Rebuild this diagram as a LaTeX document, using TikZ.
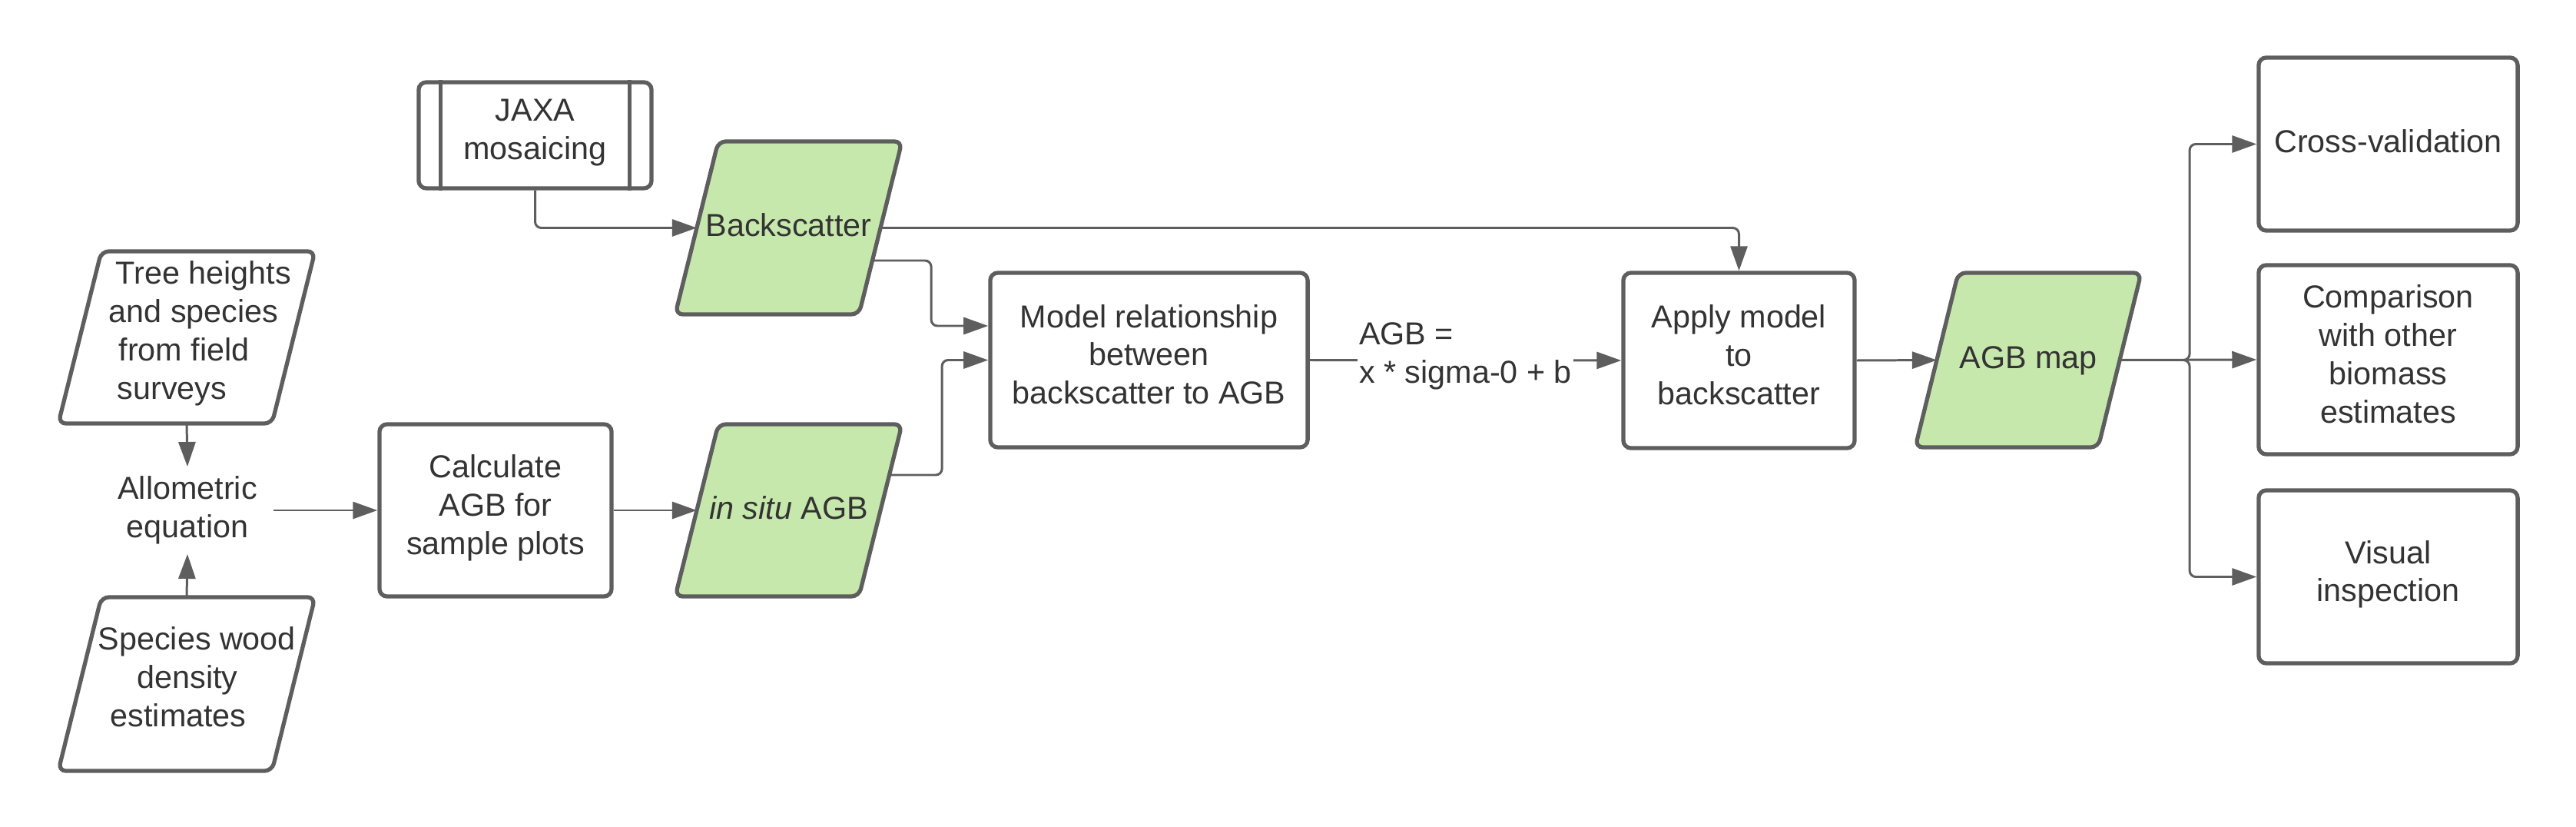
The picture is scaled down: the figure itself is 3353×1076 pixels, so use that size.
\documentclass[tikz,border=0pt]{standalone}
\usepackage{fontspec}
\setmainfont{Liberation Sans}
\usetikzlibrary{arrows.meta,calc,backgrounds}
\definecolor{lc}{HTML}{5E5E5E}
\definecolor{tc}{HTML}{333333}
\definecolor{gf}{HTML}{C7E8AC}
\newcommand{\parash}[2]{\path[pshape, fill=#2] ([xshift=0.28cm]#1.north west) -- ([xshift=0.28cm]#1.north east) -- ([xshift=-0.28cm]#1.south east) -- ([xshift=-0.28cm]#1.south west) -- cycle;}
\newcommand{\topstrut}{\rule{0pt}{0.374cm}}
\newcommand{\botstrut}{\rule[-0.15cm]{0pt}{0.15cm}}
\begin{document}
\begin{tikzpicture}[x=0.01cm,y=-0.01cm,
  every node/.style={text=tc, font=\fontsize{11.75pt}{14.2pt}\selectfont},
  lift/.style={execute at begin node=\topstrut, execute at end node=\botstrut},
  box/.style={draw=lc, line width=1.5pt, rounded corners=0.1cm, fill=white, align=center, inner sep=0pt, lift},
  para/.style={draw=none, inner sep=0pt, outer sep=0pt, align=center},
  pshape/.style={draw=lc, line width=1.5pt, rounded corners=0.1cm},
  conn/.style={draw=lc, line width=0.85pt, rounded corners=0.08cm, -{Triangle[length=0.32cm,width=0.22cm]}},
  lbl/.style={inner sep=0pt, align=center}
]
\useasboundingbox (0,0) rectangle (3353,1076);

% nodes
\node[box, minimum width=3.03cm, minimum height=1.38cm] (jaxa) at (696.5,176) {JAXA\\mosaicing};
\draw[lc, line width=1.5pt] ([xshift=0.31cm]jaxa.north west) -- ([xshift=0.31cm]jaxa.south west);
\draw[lc, line width=1.5pt] ([xshift=-0.31cm]jaxa.north east) -- ([xshift=-0.31cm]jaxa.south east);

\node[para, minimum width=2.78cm, minimum height=2.24cm] (tree) at (243,439) {};
\node[lbl, anchor=west, align=left] (treetxt) at (141,434) {\hspace*{0.09cm}Tree heights\\and species\\\hspace*{0.13cm}from field\\\hspace*{0.11cm}surveys};

\node[para, minimum width=2.78cm, minimum height=2.26cm] (spec) at (243,890) {};
\node[lbl, anchor=west, align=left] (spectxt) at (127,881) {Species wood\\\hspace*{0.51cm}density\\\hspace*{0.16cm}estimates};

\node[lbl, inner xsep=0.21cm, inner ysep=0.12cm] (allo) at (244,664) {Allometric\\equation};
\node[box, minimum width=3.02cm, minimum height=2.24cm] (calc) at (645,664) {Calculate\\AGB for\\sample plots};

\node[para, lift, minimum width=2.39cm, minimum height=2.25cm] (bs) at (1026.5,296.5) {Backscatter};
\node[para, lift, minimum width=2.39cm, minimum height=2.24cm] (ins) at (1026.5,664) {\textit{in situ} AGB};

\node[box, minimum width=4.13cm, minimum height=2.27cm] (model) at (1495.5,468.5) {Model relationship\\between\\backscatter to AGB};
\node[box, minimum width=3.01cm, minimum height=2.28cm] (apply) at (2263.5,469) {Apply model\\to\\backscatter};
\node[para, lift, minimum width=2.38cm, minimum height=2.27cm] (agb) at (2640,468.5) {AGB map};

\node[box, minimum width=3.37cm, minimum height=2.25cm] (cv) at (3108.5,187.5) {Cross-validation};
\node[box, minimum width=3.37cm, minimum height=2.46cm] (cmp) at (3108.5,468) {Comparison\\with other\\biomass\\estimates};
\node[box, minimum width=3.37cm, minimum height=2.25cm] (vis) at (3108.5,750.5) {Visual\\inspection};

\begin{pgfonlayer}{background}
\parash{tree}{white}\parash{spec}{white}\parash{bs}{gf}\parash{ins}{gf}\parash{agb}{gf}
\end{pgfonlayer}

% connectors
\draw[conn] (jaxa.south) |- (bs.west);
\draw[conn] (bs.east) -| (apply.north);
\coordinate (bsout) at ($(bs.east)+(-10.6,42.5)$);
\draw[conn] (bsout) -- ++(76.6,0) |- ($(model.west)+(0,-44.5)$);
\coordinate (insout) at ($(ins.east)+(11.5,-46)$);
\draw[conn] (insout) -- ++(68.5,0) |- (model.west);
\draw[conn] (calc.east) -- (ins.west);
\draw[conn] (allo.east) -- (calc.west);
\draw[conn] (tree.south) -- (allo.north);
\draw[conn] (spec.north) -- (allo.south);
\draw[conn] (model.east) -- node[lbl, fill=white, align=left, inner xsep=0.02cm, inner ysep=0.03cm, yshift=0.05cm] (eq) {AGB =\\x * sigma-0 + b} (apply.west);
\draw[conn] (apply.east) -- (agb.west);
\draw[conn] (agb.east) -- ++(91,0) |- (cv.west);
\draw[conn] (agb.east) -- (cmp.west);
\draw[conn] (agb.east) -- ++(91,0) |- (vis.west);
\end{tikzpicture}
\end{document}
